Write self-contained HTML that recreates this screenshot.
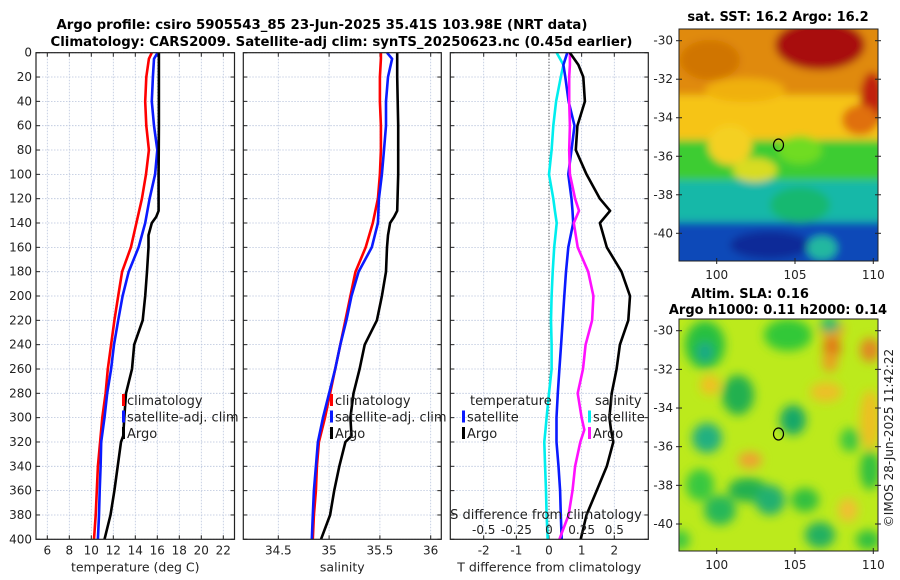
<!DOCTYPE html>
<html><head><meta charset="utf-8"><style>
html,body{margin:0;padding:0;background:#fff;}
svg{display:block;font-family:"DejaVu Sans","Liberation Sans",sans-serif;}
</style></head><body>
<svg id="fig" width="900" height="580" viewBox="0 0 900 580" xmlns="http://www.w3.org/2000/svg">
<defs>
<filter id="blur6" x="-20%" y="-20%" width="140%" height="140%"><feGaussianBlur stdDeviation="5"/></filter>
<filter id="blur4" x="-20%" y="-20%" width="140%" height="140%"><feGaussianBlur stdDeviation="4"/></filter>
<clipPath id="clipTop"><rect x="679" y="29" width="199" height="232"/></clipPath>
<clipPath id="clipBot"><rect x="679" y="319" width="199" height="232"/></clipPath>
</defs>
<text x="322" y="29" text-anchor="middle" font-weight="bold" font-size="13" textLength="531" lengthAdjust="spacingAndGlyphs">Argo profile: csiro 5905543_85 23-Jun-2025 35.41S 103.98E (NRT data)</text>
<text x="341.5" y="46" text-anchor="middle" font-weight="bold" font-size="13" textLength="582" lengthAdjust="spacingAndGlyphs">Climatology: CARS2009. Satellite-adj clim: synTS_20250623.nc (0.45d earlier)</text>
<g id="panels"></g>
<!-- SST map -->
<g>
<text x="778" y="21" text-anchor="middle" font-weight="bold" font-size="13">sat. SST: 16.2 Argo: 16.2</text>
<g clip-path="url(#clipTop)">
<rect x="679" y="29" width="199" height="232" fill="#1e9ad0"/>
<g filter="url(#blur4)">
<rect x="670" y="20" width="220" height="95" fill="#e08a08"/>
<rect x="670" y="95" width="220" height="50" fill="#f6c414"/>
<rect x="670" y="140" width="220" height="45" fill="#3ccc30"/>
<rect x="670" y="180" width="220" height="45" fill="#12b8a8"/>
<rect x="670" y="222" width="220" height="50" fill="#0c48b8"/>
<ellipse cx="820" cy="45" rx="45" ry="25" fill="#a80808"/>
<ellipse cx="872" cy="100" rx="12" ry="28" fill="#c02010"/>
<ellipse cx="710" cy="60" rx="30" ry="20" fill="#d07406"/>
<ellipse cx="745" cy="90" rx="40" ry="12" fill="#f0b010"/>
<ellipse cx="730" cy="145" rx="22" ry="20" fill="#f4d020"/>
<ellipse cx="800" cy="150" rx="22" ry="14" fill="#70dc20"/>
<ellipse cx="755" cy="170" rx="22" ry="12" fill="#d8dc20"/>
<ellipse cx="800" cy="205" rx="30" ry="18" fill="#18b870"/>
<ellipse cx="770" cy="245" rx="40" ry="14" fill="#082c98"/>
<ellipse cx="822" cy="248" rx="15" ry="12" fill="#20b8a0"/>
<ellipse cx="860" cy="120" rx="18" ry="15" fill="#e07010"/>
</g>
</g>
<rect x="679" y="29" width="199" height="232" fill="none" stroke="#222" stroke-width="1"/>
<ellipse cx="778.5" cy="145" rx="5" ry="6" fill="none" stroke="#000" stroke-width="1.2"/>
</g>
<!-- SLA map -->
<g>
<text x="750" y="298" text-anchor="middle" font-weight="bold" font-size="13">Altim. SLA: 0.16</text>
<text x="778" y="314" text-anchor="middle" font-weight="bold" font-size="13">Argo h1000: 0.11 h2000: 0.14</text>
<g clip-path="url(#clipBot)">
<rect x="679" y="319" width="199" height="232" fill="#bcea1c"/>
<g filter="url(#blur6)">
<ellipse cx="705" cy="345" rx="20" ry="24" fill="#28c040"/>
<ellipse cx="705" cy="352" rx="8" ry="10" fill="#1aa888"/>
<ellipse cx="788" cy="335" rx="24" ry="16" fill="#30c838"/>
<ellipse cx="832" cy="330" rx="12" ry="10" fill="#f0a018"/>
<ellipse cx="832" cy="348" rx="9" ry="11" fill="#e07818"/>
<ellipse cx="830" cy="362" rx="8" ry="10" fill="#e8a020"/>
<ellipse cx="830" cy="325" rx="10" ry="8" fill="#28b870"/>
<ellipse cx="870" cy="350" rx="10" ry="12" fill="#e08820"/>
<ellipse cx="710" cy="385" rx="10" ry="10" fill="#f0c020"/>
<ellipse cx="738" cy="395" rx="16" ry="20" fill="#20b050"/>
<ellipse cx="707" cy="438" rx="15" ry="15" fill="#20b080"/>
<ellipse cx="793" cy="420" rx="13" ry="15" fill="#18a868"/>
<ellipse cx="826" cy="392" rx="16" ry="10" fill="#ecc028"/>
<ellipse cx="750" cy="460" rx="12" ry="8" fill="#f0a030"/>
<ellipse cx="700" cy="485" rx="14" ry="16" fill="#38c840"/>
<ellipse cx="748" cy="490" rx="20" ry="12" fill="#20b050"/>
<ellipse cx="770" cy="500" rx="15" ry="15" fill="#20b070"/>
<ellipse cx="805" cy="500" rx="14" ry="12" fill="#30c040"/>
<ellipse cx="720" cy="510" rx="16" ry="15" fill="#28b858"/>
<ellipse cx="820" cy="535" rx="15" ry="13" fill="#20b060"/>
<ellipse cx="848" cy="510" rx="10" ry="12" fill="#f0c030"/>
<ellipse cx="870" cy="470" rx="10" ry="20" fill="#30c040"/>
<ellipse cx="850" cy="440" rx="10" ry="12" fill="#40c840"/>
<ellipse cx="870" cy="420" rx="10" ry="30" fill="#ecc020"/>
<ellipse cx="868" cy="540" rx="12" ry="10" fill="#30c040"/>
<ellipse cx="680" cy="540" rx="10" ry="10" fill="#40c840"/>
</g>
</g>
<rect x="679" y="319" width="199" height="232" fill="none" stroke="#222" stroke-width="1"/>
<ellipse cx="778.5" cy="434" rx="5" ry="6" fill="none" stroke="#000" stroke-width="1.2"/>
</g>
<text transform="translate(893,438) rotate(-90)" text-anchor="middle" font-size="12" fill="#222">©IMOS 28-Jun-2025 11:42:22</text>
<g id="mapaxes"></g>
</svg>
<script>
// ---- depth levels (m) for each series ----
const depthT = [0,5,20,40,60,80,100,120,140,160,180,200,220,240,260,280,300,320,340,360,380,400];
const tempClim = [15.5,15.24,15.0,14.9,15.0,15.24,14.97,14.6,14.1,13.6,12.8,12.45,12.1,11.8,11.5,11.3,11.0,10.8,10.6,10.5,10.4,10.25];
const tempSat  = [16.03,15.7,15.6,15.5,15.7,16.0,15.8,15.3,14.9,14.3,13.4,12.85,12.45,12.06,11.8,11.45,11.2,10.9,10.85,10.76,10.7,10.6];
const depthArgo = [0,20,60,100,130,135,140,150,160,180,200,220,240,260,280,300,315,320,340,360,380,400];
const tempArgo = [16.15,16.15,16.15,16.12,16.12,15.9,15.5,15.2,15.2,15.06,14.9,14.67,13.9,13.7,13.15,13.0,12.9,12.7,12.4,12.1,11.75,11.2];
const salClim = [35.51,35.51,35.5,35.5,35.51,35.51,35.5,35.48,35.43,35.36,35.26,35.21,35.16,35.11,35.06,35.01,34.96,34.9,34.88,34.87,34.85,34.84];
const salSat  = [35.57,35.62,35.58,35.56,35.56,35.54,35.52,35.49,35.48,35.42,35.29,35.22,35.17,35.11,35.06,35.0,34.94,34.89,34.87,34.85,34.84,34.83];
const salArgo = [35.67,35.67,35.68,35.68,35.67,35.64,35.6,35.58,35.57,35.56,35.52,35.47,35.35,35.3,35.24,35.21,35.22,35.16,35.1,35.05,35.01,34.92];
const depthD = [0,10,20,40,60,80,100,120,130,140,160,180,200,220,240,260,280,300,310,320,340,360,380,400];
const dTsat  = [0.56,0.44,0.5,0.6,0.78,0.69,0.59,0.69,0.72,0.74,0.59,0.52,0.47,0.42,0.37,0.32,0.27,0.23,0.23,0.23,0.29,0.34,0.36,0.39];
const dTargo = [0.64,0.9,1.05,1.1,0.87,0.82,1.15,1.56,1.87,1.56,1.77,2.22,2.48,2.43,2.17,2.07,1.92,1.85,1.9,1.97,1.77,1.46,1.15,0.97];
const dSsat  = [0.059,0.11,0.09,0.054,0.033,0.02,0,0.033,0.045,0.059,0.04,0.028,0.02,0.015,0.02,0.02,0,-0.018,-0.027,-0.036,-0.03,-0.023,-0.018,-0.01];
const dSargo = [0.16,0.16,0.155,0.155,0.16,0.155,0.16,0.2,0.23,0.19,0.22,0.3,0.34,0.33,0.28,0.26,0.22,0.25,0.27,0.24,0.2,0.18,0.15,0.08];
const depthTicks = [0,20,40,60,80,100,120,140,160,180,200,220,240,260,280,300,320,340,360,380,400];
const tempTicks = [6,8,10,12,14,16,18,20,22];
const salTicks = [34.5,35,35.5,36];
const dTTicks = [-2,-1,0,1,2];
const dSTicks = [-0.5,-0.25,0,0.25,0.5];
const dSTickLabels = ["-0.5","-0.25","0","0.25","0.5"];
const lonTicks = [100,105,110];
const latTicks = [-30,-32,-34,-36,-38,-40];

const NS="http://www.w3.org/2000/svg";
const root=document.getElementById('panels');
function mk(tag,attrs,parent){const e=document.createElementNS(NS,tag);for(const k in attrs)e.setAttribute(k,attrs[k]);(parent||root).appendChild(e);return e;}
const Y0=52.7,Y1=539.3;
const yD=d=>Y0+(d/400)*(Y1-Y0);
function linX(d0,d1,p0,p1){return v=>p0+(v-d0)/(d1-d0)*(p1-p0);}

function panel(name,x0,x1,xs,ticks,labels,xlabel,showY){
  const g=mk('g',{});
  
  
  mk('rect',{x:x0,y:Y0,width:x1-x0,height:Y1-Y0,fill:'#fff'},g);
  depthTicks.forEach(d=>{
    const l=mk('line',{x1:x0,x2:x1,y1:yD(d),y2:yD(d),stroke:'#b8c4dc','stroke-width':0.8,'stroke-dasharray':'1.5,1.5'},g);
    
    
    mk('line',{x1:x0,x2:x0+4,y1:yD(d),y2:yD(d),stroke:'#222'},g);
    mk('line',{x1:x1-4,x2:x1,y1:yD(d),y2:yD(d),stroke:'#222'},g);
    if(showY){const t=mk('text',{x:x0-4,y:yD(d)+4,'text-anchor':'end','font-size':12,fill:'#222'},g);t.textContent=d;
      
      }
  });
  ticks.forEach((v,i)=>{
    const x=xs(v);
    const l=mk('line',{x1:x,x2:x,y1:Y0,y2:Y1,stroke:'#b8c4dc','stroke-width':0.8,'stroke-dasharray':'1.5,1.5'},g);
    
    
    mk('line',{x1:x,x2:x,y1:Y1-4,y2:Y1,stroke:'#222'},g);
    mk('line',{x1:x,x2:x,y1:Y0,y2:Y0+4,stroke:'#222'},g);
    const t=mk('text',{x:x,y:Y1+15,'text-anchor':'middle','font-size':12,fill:'#222'},g);t.textContent=labels[i];
    
    
  });
  const xl=mk('text',{x:(x0+x1)/2,y:Y1+32,'text-anchor':'middle','font-size':12.5,fill:'#222'},g);xl.textContent=xlabel;
  
  
  return g;
}
function line(g,name,xs,vals,depths,color){
  const pts=vals.map((v,i)=>xs(v).toFixed(1)+','+yD(depths[i]).toFixed(1)).join(' ');
  const p=mk('polyline',{points:pts,fill:'none',stroke:color,'stroke-width':2.6,'stroke-linejoin':'round'},g);
  
  
}
function frame(g,x0,x1){mk('rect',{x:x0,y:Y0,width:x1-x0,height:Y1-Y0,fill:'none',stroke:'#222','stroke-width':1.2},g);}
function legend(g,x,y,items){
  items.forEach((it,i)=>{
    const yy=y+i*16.5;
    const m=mk('rect',{x:x,y:yy-11,width:3,height:12,fill:it[1]},g);
    
    
    const t=mk('text',{x:x+5,y:yy,'font-size':13,fill:'#222'},g);t.textContent=it[0];
    
    
  });
}

// Panel 1: temperature
const xT=linX(6,22,47.3,223.3);
const g1=panel('temperature-panel',36,234.5,xT,tempTicks,tempTicks.map(String),'temperature (deg C)',true);
line(g1,'temp-climatology-line',xT,tempClim,depthT,'#ff0000');
line(g1,'temp-satellite-line',xT,tempSat,depthT,'#0a1aff');
line(g1,'temp-argo-line',xT,tempArgo,depthArgo,'#000');
frame(g1,36,234.5);
legend(g1,122,405,[['climatology','#ff0000'],['satellite-adj. clim','#0a1aff'],['Argo','#000']]);

// Panel 2: salinity
const xS=linX(34.5,36,278.3,430.7);
const g2=panel('salinity-panel',243.3,441.3,xS,salTicks,['34.5','35','35.5','36'],'salinity',false);
line(g2,'sal-climatology-line',xS,salClim,depthT,'#ff0000');
line(g2,'sal-satellite-line',xS,salSat,depthT,'#0a1aff');
line(g2,'sal-argo-line',xS,salArgo,depthArgo,'#000');
frame(g2,243.3,441.3);
legend(g2,330,405,[['climatology','#ff0000'],['satellite-adj. clim','#0a1aff'],['Argo','#000']]);

// Panel 3: differences
const xdT=linX(0,2,549,614.3);
const xdS=v=>xdT(v*4);
const g3=panel('difference-panel',450.3,648.3,xdT,dTTicks,dTTicks.map(String),'T difference from climatology',false);
mk('line',{x1:xdT(0),x2:xdT(0),y1:Y0,y2:Y1,stroke:'#333','stroke-width':1,'stroke-dasharray':'1,2'},g3);
line(g3,'dS-satellite-line',xdS,dSsat,depthD,'#00eeee');
line(g3,'dT-satellite-line',xdT,dTsat,depthD,'#0a1aff');
line(g3,'dS-argo-line',xdS,dSargo,depthD,'#ff10ff');
line(g3,'dT-argo-line',xdT,dTargo,depthD,'#000');
frame(g3,450.3,648.3);
let t=mk('text',{x:470,y:405,'font-size':13,fill:'#222'},g3);t.textContent='temperature';


t=mk('text',{x:595,y:405,'font-size':13,fill:'#222'},g3);t.textContent='salinity';


legend(g3,462,421.5,[['satellite','#0a1aff'],['Argo','#000']]);
legend(g3,588,421.5,[['satellite','#00eeee'],['Argo','#ff10ff']]);
t=mk('text',{x:546,y:519,'text-anchor':'middle','font-size':13,fill:'#222'},g3);t.textContent='S difference from climatology';


dSTicks.forEach((v,i)=>{
  const tt=mk('text',{x:xdS(v),y:534,'text-anchor':'middle','font-size':12,fill:'#222'},g3);tt.textContent=dSTickLabels[i];
  
  
});

// Map axes
const ma=document.getElementById('mapaxes');
const xLon=linX(100,110,716.7,873.3);
function mapAxes(latY,yb,yt){
  lonTicks.forEach(l=>{
    const x=xLon(l);
    mk('line',{x1:x,x2:x,y1:yb-3,y2:yb+3,stroke:'#222'},ma);
    const tt=mk('text',{x:x,y:yb+18,'text-anchor':'middle','font-size':12,fill:'#222'},ma);tt.textContent=l;
    
    
  });
  latTicks.forEach(l=>{
    const y=latY(l);
    mk('line',{x1:676,x2:682,y1:y,y2:y,stroke:'#222'},ma);
    mk('line',{x1:875,x2:881,y1:y,y2:y,stroke:'#222'},ma);
    const tt=mk('text',{x:673,y:y+4,'text-anchor':'end','font-size':12,fill:'#222'},ma);tt.textContent=l;
    
    
  });
}
mapAxes(linX(-30,-40,40.7,233.3),261,29);
mapAxes(linX(-30,-40,330.7,524),551,319);
</script>
</body></html>
